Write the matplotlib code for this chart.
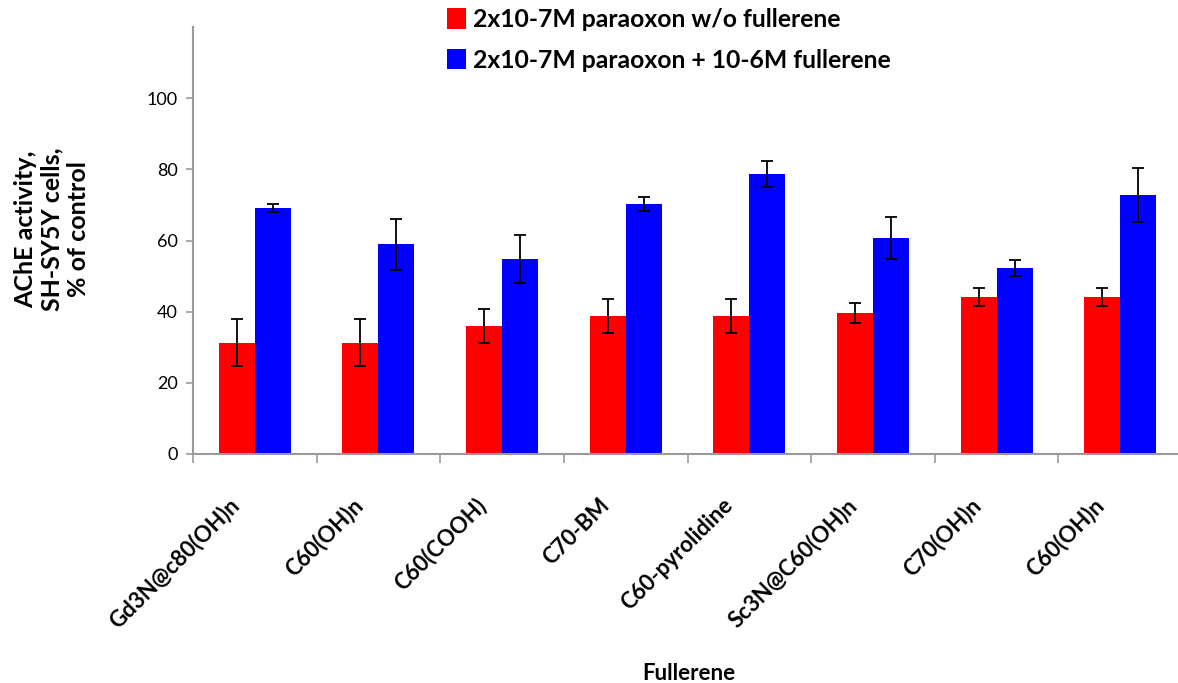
import matplotlib
matplotlib.use("Agg")
import matplotlib.pyplot as plt
from matplotlib.transforms import ScaledTranslation
import numpy as np

plt.rcParams['font.family'] = ['Lato', 'DejaVu Sans']

categories = ["Gd3N@c80(OH)n", "C60(OH)n", "C60(COOH)", "C70-BM",
              "C60-pyrolidine", "Sc3N@C60(OH)n", "C70(OH)n", "C60(OH)n"]
red_vals = [31.2, 31.2, 36.0, 38.8, 38.8, 39.6, 44.1, 44.1]
red_err = [6.6, 6.6, 4.7, 4.8, 4.8, 2.8, 2.5, 2.5]
blue_vals = [69.1, 58.9, 54.8, 70.2, 78.7, 60.7, 52.3, 72.8]
blue_err = [1.1, 7.2, 6.8, 2.0, 3.6, 6.0, 2.2, 7.6]
series_names = ["2x10-7M paraoxon w/o fullerene", "2x10-7M paraoxon + 10-6M fullerene"]
yticks = [0, 20, 40, 60, 80, 100]

W, H = 1178, 683
fig = plt.figure(figsize=(W / 100, H / 100), dpi=100)
left, right, bottom, top = 193, 1182, 454, 27
ax = fig.add_axes([left / W, 1 - bottom / H, (right - left) / W, (bottom - top) / H])

x = np.arange(len(categories)) + 0.5
bw = 0.291
ekw = dict(ecolor='black', elinewidth=1.3, capsize=4, capthick=1.3)
ax.bar(x - bw / 2, red_vals, bw, color='#FF0000', yerr=red_err, error_kw=ekw,
       label=series_names[0], zorder=2)
ax.bar(x + bw / 2, blue_vals, bw, color='#0000FF', yerr=blue_err, error_kw=ekw,
       label=series_names[1], zorder=2)

ax.set_xlim(0, len(categories))
ax.set_ylim(0, 120)
ax.set_yticks(yticks)
ax.set_yticklabels([str(t) for t in yticks], fontsize=13)
ax.tick_params(axis='y', direction='out', length=5, width=1.2, color='#9a9a9a', pad=6)

ax.set_xticks(np.arange(len(categories) + 1))
ax.set_xticklabels([])
ax.tick_params(axis='x', which='major', direction='out', length=6.5, width=1.2, color='#9a9a9a')
ax.set_xticks(x, minor=True)
ax.set_xticklabels(categories, minor=True, rotation=45, ha='right', va='top',
                   rotation_mode='anchor', fontsize=16, fontweight='bold')
ax.tick_params(axis='x', which='minor', length=0, pad=29)
for lab in ax.get_xticklabels(minor=True):
    lab.set_transform(lab.get_transform() + ScaledTranslation(-0.27, 0, fig.dpi_scale_trans))

for s in ['top', 'right']:
    ax.spines[s].set_visible(False)
for s in ['left', 'bottom']:
    ax.spines[s].set_color('#9a9a9a')
    ax.spines[s].set_linewidth(1.5)

fig.text(52 / W, 1 - 229 / H, "AChE activity,\nSH-SY5Y cells,\n% of control",
         rotation=90, ha='center', va='center', multialignment='center',
         fontsize=18, fontweight='bold', linespacing=1.2)
fig.text(689 / W, 1 - 673 / H, "Fullerene", ha='center', va='center',
         fontsize=16, fontweight='bold')

fig.legend(loc='upper left', bbox_to_anchor=(447 / W, 1 - 8 / H), frameon=False,
           prop={'size': 17.8, 'weight': 'bold'}, handlelength=0.75, handleheight=0.88,
           handletextpad=0.32, labelspacing=0.72, borderpad=0, borderaxespad=0)

fig.savefig("out.png", dpi=100)
